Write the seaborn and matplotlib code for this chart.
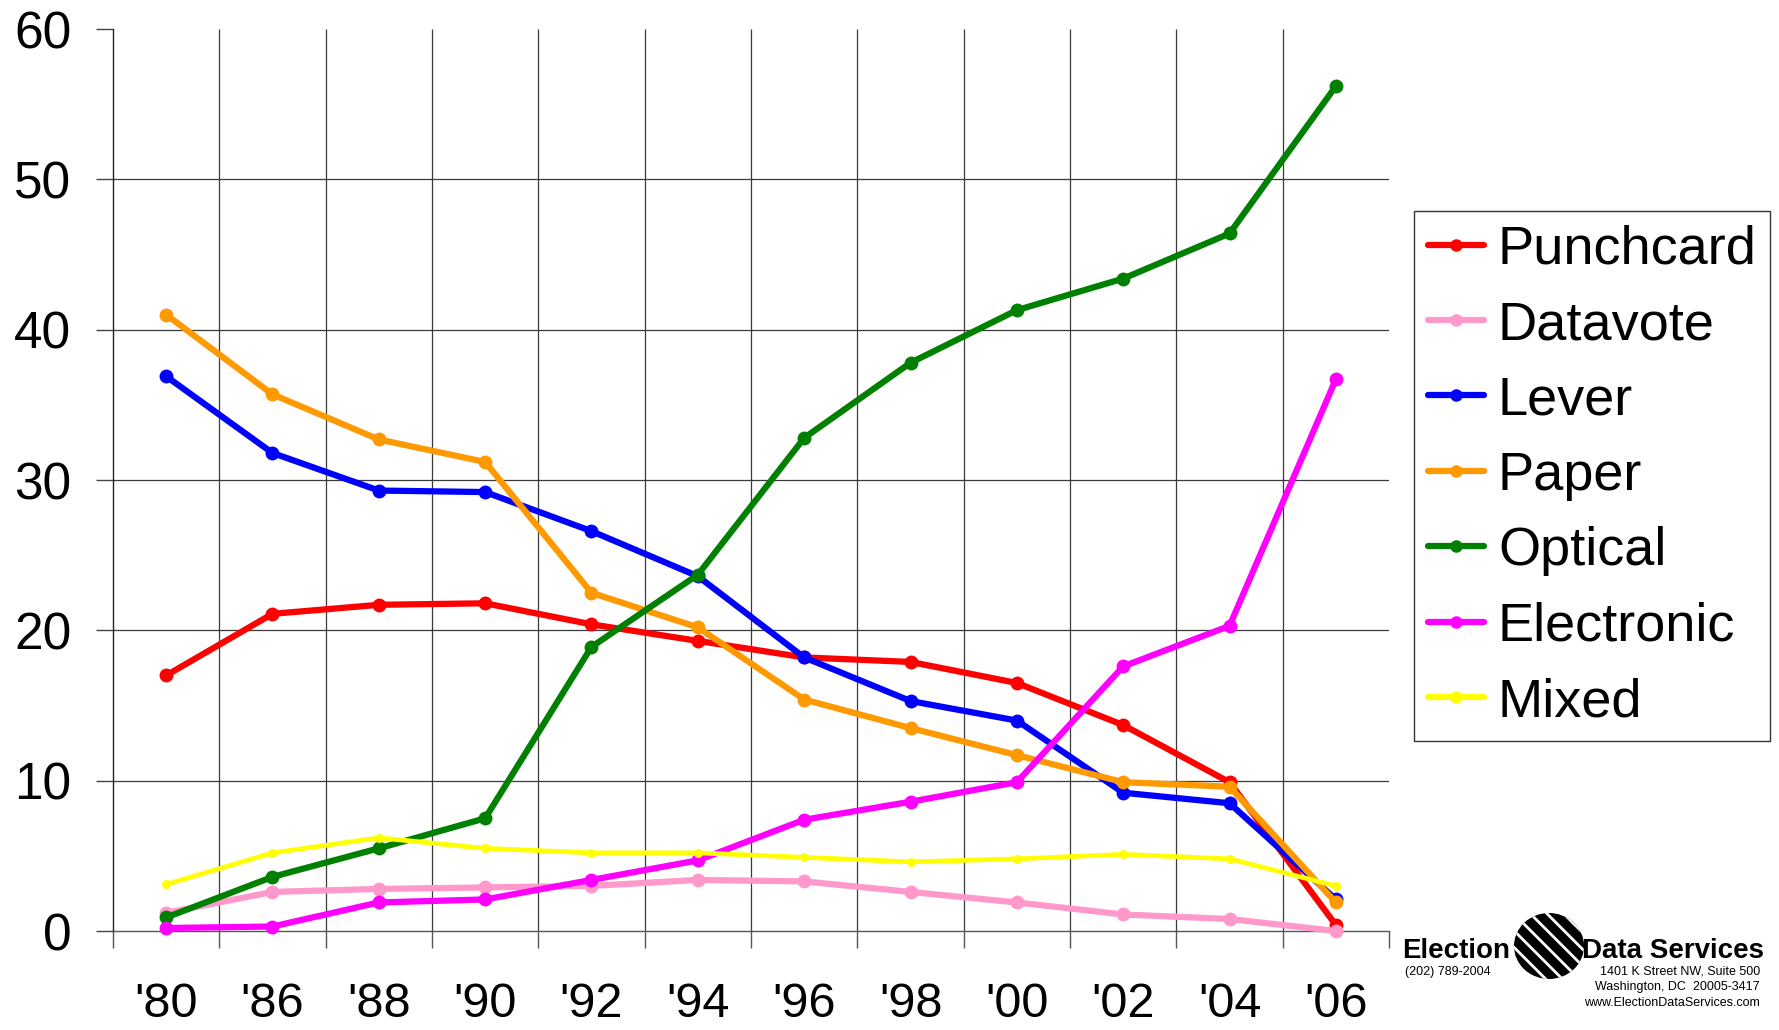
import numpy as np
import pandas as pd
import matplotlib
matplotlib.use("Agg")
import matplotlib.pyplot as plt
import seaborn as sns
from matplotlib.patches import Ellipse

# ---- data ----
years = ["'80", "'86", "'88", "'90", "'92", "'94", "'96", "'98", "'00", "'02", "'04", "'06"]
punchcard = [17.0, 21.1, 21.7, 21.8, 20.4, 19.3, 18.2, 17.9, 16.5, 13.7, 9.9, 0.4]
datavote = [1.2, 2.6, 2.8, 2.9, 3.0, 3.4, 3.3, 2.6, 1.9, 1.1, 0.8, 0.0]
lever = [36.9, 31.8, 29.3, 29.2, 26.6, 23.6, 18.2, 15.3, 14.0, 9.2, 8.5, 2.1]
paper = [41.0, 35.7, 32.7, 31.2, 22.5, 20.2, 15.4, 13.5, 11.7, 9.9, 9.6, 1.9]
optical = [0.9, 3.6, 5.5, 7.5, 18.9, 23.7, 32.8, 37.8, 41.3, 43.4, 46.4, 56.2]
electronic = [0.2, 0.3, 1.9, 2.1, 3.4, 4.7, 7.4, 8.6, 9.9, 17.6, 20.3, 36.7]
mixed = [3.1, 5.2, 6.2, 5.5, 5.2, 5.2, 4.9, 4.6, 4.8, 5.1, 4.8, 3.0]

series_names = ["Punchcard", "Datavote", "Lever", "Paper", "Optical", "Electronic", "Mixed"]
series_values = [punchcard, datavote, lever, paper, optical, electronic, mixed]
colors = ["#FF0000", "#FF99CC", "#0000FF", "#FF9900", "#008000", "#FF00FF", "#FFFF00"]

y_ticks = [0, 10, 20, 30, 40, 50, 60]

sns.set_style("white")
plt.rcParams["font.family"] = ["Liberation Sans", "DejaVu Sans"]
plt.rcParams["text.color"] = "black"
plt.rcParams["xtick.color"] = "black"
plt.rcParams["ytick.color"] = "black"
plt.rcParams["xtick.labelcolor"] = "black"
plt.rcParams["ytick.labelcolor"] = "black"

fig = plt.figure(figsize=(17.79, 10.30), dpi=100)
ax = fig.add_axes([0.0635, 0.0961, 0.7173, 0.8757])

pos = np.arange(len(years))
for i, (name, vals, col) in enumerate(zip(series_names, series_values, colors)):
    df = pd.DataFrame({"x": pos, "y": vals})
    thin = name == "Mixed"
    sns.lineplot(data=df, x="x", y="y", ax=ax, color=col, label=name,
                 linewidth=3.4 if thin else 4.5, marker="o",
                 markersize=6.5 if thin else 10, markeredgewidth=0,
                 zorder=3 + i, clip_on=False, sort=False)

ax.set_xlim(-0.5, len(years) - 0.5)
ax.set_ylim(0, 60)

# grid lines
gcol = "#3a3a3a"
ax.vlines(np.arange(0.5, len(years) - 0.5, 1), 0, 60, colors=gcol, lw=0.9, zorder=1)
ax.hlines(y_ticks[1:-1], -0.5, len(years) - 0.5, colors=gcol, lw=0.9, zorder=1)

# spines
for s in ["top", "right"]:
    ax.spines[s].set_visible(False)
ax.spines["left"].set_color("#222222")
ax.spines["left"].set_linewidth(1.0)
ax.spines["bottom"].set_color("#555555")
ax.spines["bottom"].set_linewidth(1.0)

# ticks
ax.set_yticks(y_ticks)
ax.set_yticklabels([str(v) for v in y_ticks])
ax.set_xticks(pos)
ax.set_xticklabels(years)
ax.set_xticks(np.arange(-0.5, len(years), 1), minor=True)
ax.tick_params(axis="y", which="major", length=12, width=1.0, color="#444444",
               direction="out", pad=18, labelsize=37, left=True, labelcolor="black")
ax.tick_params(axis="x", which="major", length=0, pad=36.5, labelsize=35, labelcolor="black")
ax.tick_params(axis="x", which="minor", length=12, width=1.0, color="#555555",
               direction="out", bottom=True)
ax.set_xlabel("")
ax.set_ylabel("")

# legend
leg = ax.legend(loc="upper left", bbox_to_anchor=(1414 / 1779, 1 - 211 / 1030),
                bbox_transform=fig.transFigure, borderaxespad=0, fontsize=39,
                frameon=True, fancybox=False, edgecolor="#333333",
                handlelength=1.05, handletextpad=0.25, labelspacing=0.47,
                borderpad=0.25, framealpha=1, labelcolor="black")
leg.get_frame().set_linewidth(1.0)
for h in leg.get_lines():
    h.set_linewidth(4.5)
    h.set_markersize(9)

# logo
fig.text(1402 / 1779, 1 - 958 / 1030, "Election", fontsize=20, fontweight="bold",
         ha="left", va="baseline")
fig.text(1764 / 1779, 1 - 958 / 1030, "Data Services", fontsize=20, fontweight="bold",
         ha="right", va="baseline")
fig.text(1405 / 1779, 1 - 972 / 1030, "(202) 789-2004", fontsize=9, ha="left", va="center")
fig.text(1760 / 1779, 1 - 971 / 1030, "1401 K Street NW, Suite 500", fontsize=9,
         ha="right", va="center")
fig.text(1760 / 1779, 1 - 987 / 1030, "Washington, DC  20005-3417", fontsize=9,
         ha="right", va="center")
fig.text(1760 / 1779, 1 - 1003 / 1030, "www.ElectionDataServices.com", fontsize=9,
         ha="right", va="center")
plt.rcParams["hatch.linewidth"] = 2.0
globe = Ellipse((1549 / 1779, 1 - 946 / 1030), 70 / 1779, 66 / 1030,
                transform=fig.transFigure, facecolor="black", edgecolor="white",
                hatch="\\\\", lw=0)
fig.patches.append(globe)

fig.savefig("out.png", dpi=100)
